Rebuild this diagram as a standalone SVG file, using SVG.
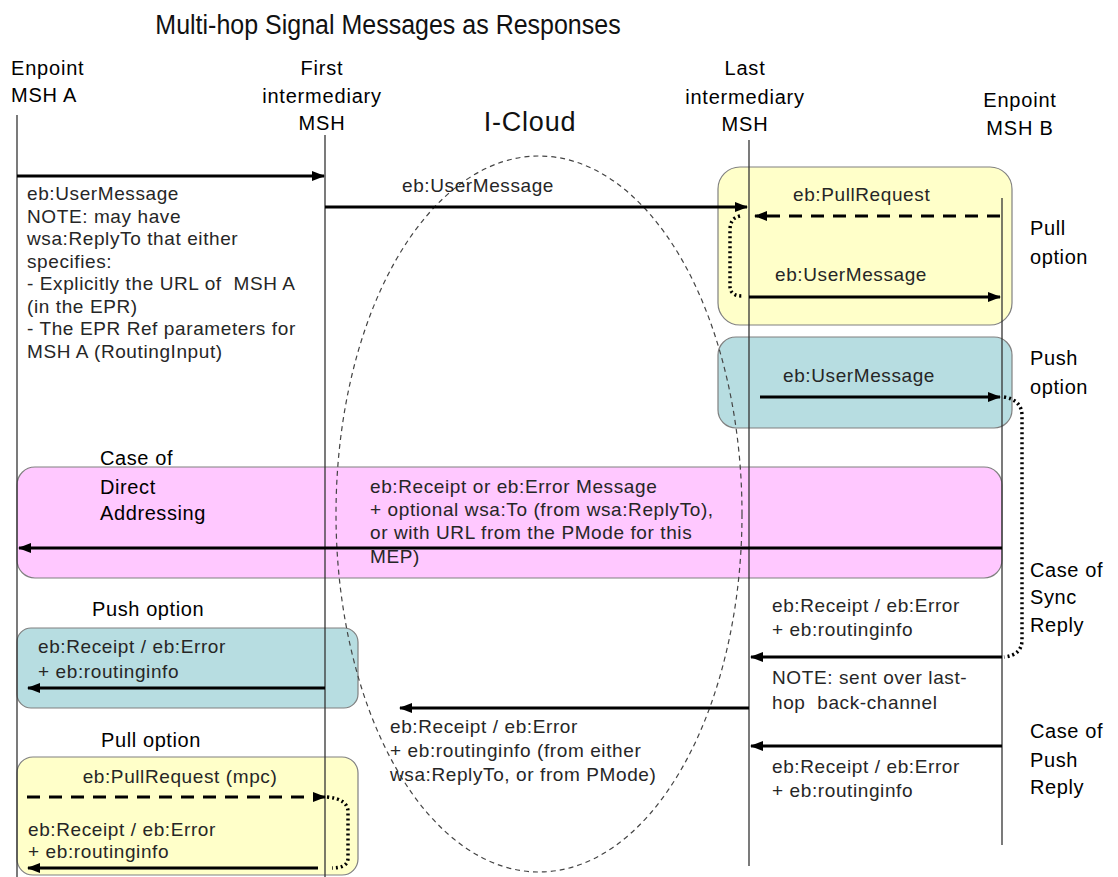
<svg xmlns="http://www.w3.org/2000/svg" width="1118" height="877" viewBox="0 0 1118 877">
<defs>
<marker id="ah" markerUnits="userSpaceOnUse" markerWidth="13" markerHeight="10" refX="12" refY="5" orient="auto">
<path d="M0,0 L13,5 L0,10 z" fill="#000"/>
</marker>
<style>
text{font-family:"Liberation Sans",Arial,sans-serif;}
.title{font-size:25px;fill:#111;}
.hdr{font-size:20px;fill:#000;letter-spacing:0.8px;}
.lbl{font-size:20px;fill:#000;letter-spacing:0.6px;}
.body{font-size:19px;fill:#262626;letter-spacing:0.6px;}
.cloud{font-size:27px;fill:#111;letter-spacing:0.8px;}
.life{stroke:#333;stroke-width:1.3;fill:none;}
.msg{stroke:#000;stroke-width:3;fill:none;marker-end:url(#ah);}
.dash{stroke:#000;stroke-width:3;fill:none;stroke-dasharray:13,9;marker-end:url(#ah);}
.dot{stroke:#000;stroke-width:3.5;fill:none;stroke-dasharray:2,3;}
.box{stroke:#808080;stroke-width:1.2;}
.yel{fill:#FFFFC9;}
.blu{fill:#B7DDE1;}
.pnk{fill:#FFC8FF;}
.cl{fill:none;stroke:#444;stroke-width:1.2;stroke-dasharray:5,4;}
</style>
</defs>
<rect width="1118" height="877" fill="#fff"/>
<text id="title" class="title" transform="translate(388,34) scale(1,1.12)" text-anchor="middle">Multi-hop Signal Messages as Responses</text>

<g id="boxes">
<rect id="box-pull-right" class="box yel" x="718" y="167" width="294" height="158" rx="22"/>
<rect id="box-push-right" class="box blu" x="718" y="337" width="294" height="91" rx="18"/>
<rect id="box-direct" class="box pnk" x="17" y="467" width="985" height="111" rx="18"/>
<rect id="box-push-left" class="box blu" x="17" y="628" width="341" height="80" rx="14"/>
<rect id="box-pull-left" class="box yel" x="17" y="757" width="341" height="118" rx="16"/>
</g>

<g id="icloud">
<ellipse class="cl" cx="539" cy="514" rx="203" ry="358"/>
<text class="cloud" x="530" y="131" text-anchor="middle">I-Cloud</text>
</g>

<g id="msh-a">
<line class="life" x1="17" y1="115" x2="17" y2="877"/>
<text class="hdr" x="11" y="75">Enpoint</text>
<text class="hdr" x="11" y="102">MSH A</text>
</g>
<g id="msh-first">
<line class="life" x1="325" y1="135" x2="325" y2="877"/>
<text class="hdr" x="322" y="75" text-anchor="middle">First</text>
<text class="hdr" x="322" y="103" text-anchor="middle">intermediary</text>
<text class="hdr" x="322" y="130" text-anchor="middle">MSH</text>
</g>
<g id="msh-last">
<line class="life" x1="749" y1="140" x2="749" y2="866"/>
<text class="hdr" x="745" y="75" text-anchor="middle">Last</text>
<text class="hdr" x="745" y="104" text-anchor="middle">intermediary</text>
<text class="hdr" x="745" y="131" text-anchor="middle">MSH</text>
</g>
<g id="msh-b">
<line class="life" x1="1002" y1="198" x2="1002" y2="845"/>
<text class="hdr" x="1020" y="107" text-anchor="middle">Enpoint</text>
<text class="hdr" x="1020" y="135" text-anchor="middle">MSH B</text>
</g>

<g id="labels">
<text class="lbl" x="1030" y="235">Pull</text>
<text class="lbl" x="1030" y="264">option</text>
<text class="lbl" x="1030" y="365">Push</text>
<text class="lbl" x="1030" y="394">option</text>
<text class="lbl" x="1030" y="577">Case of</text>
<text class="lbl" x="1030" y="604">Sync</text>
<text class="lbl" x="1030" y="632">Reply</text>
<text class="lbl" x="1030" y="738">Case of</text>
<text class="lbl" x="1030" y="767">Push</text>
<text class="lbl" x="1030" y="794">Reply</text>
<text class="lbl" x="100" y="465">Case of</text>
<text class="lbl" x="100" y="494">Direct</text>
<text class="lbl" x="100" y="520">Addressing</text>
<text class="lbl" x="92" y="616">Push option</text>
<text class="lbl" x="101" y="747">Pull option</text>
</g>

<g id="texts">
<text class="body" x="27" y="200">eb:UserMessage</text>
<text class="body" x="27" y="222.5">NOTE: may have</text>
<text class="body" x="27" y="245">wsa:ReplyTo that either</text>
<text class="body" x="27" y="267.5">specifies:</text>
<text class="body" x="27" y="290" xml:space="preserve">- Explicitly the URL of  MSH A</text>
<text class="body" x="27" y="312.5">(in the EPR)</text>
<text class="body" x="27" y="335">- The EPR Ref parameters for</text>
<text class="body" x="27" y="357.5">MSH A (RoutingInput)</text>
<text class="body" x="402" y="192">eb:UserMessage</text>
<text class="body" x="793" y="201">eb:PullRequest</text>
<text class="body" x="775" y="281">eb:UserMessage</text>
<text class="body" x="783" y="382">eb:UserMessage</text>
<text class="body" x="370" y="493">eb:Receipt or eb:Error Message</text>
<text class="body" x="370" y="516">+ optional wsa:To (from wsa:ReplyTo),</text>
<text class="body" x="370" y="539">or with URL from the PMode for this</text>
<text class="body" x="370" y="563">MEP)</text>
<text class="body" x="772" y="612">eb:Receipt / eb:Error</text>
<text class="body" x="772" y="636">+ eb:routinginfo</text>
<text class="body" x="772" y="684">NOTE: sent over last-</text>
<text class="body" x="772" y="709" xml:space="preserve">hop  back-channel</text>
<text class="body" x="390" y="733">eb:Receipt / eb:Error</text>
<text class="body" x="390" y="757">+ eb:routinginfo (from either</text>
<text class="body" x="390" y="781">wsa:ReplyTo, or from PMode)</text>
<text class="body" x="772" y="773">eb:Receipt / eb:Error</text>
<text class="body" x="772" y="797">+ eb:routinginfo</text>
<text class="body" x="38" y="653">eb:Receipt / eb:Error</text>
<text class="body" x="38" y="678">+ eb:routinginfo</text>
<text class="body" x="180" y="783" text-anchor="middle">eb:PullRequest (mpc)</text>
<text class="body" x="28" y="836">eb:Receipt / eb:Error</text>
<text class="body" x="28" y="858">+ eb:routinginfo</text>
</g>

<g id="connectors">
<line class="msg" x1="17" y1="176" x2="324" y2="176"/>
<line class="msg" x1="325" y1="207" x2="747" y2="207"/>
<line class="dash" x1="1000" y1="216" x2="755" y2="216"/>
<path class="dot" d="M740,216 Q730,218 730,230 L730,286 Q730,296 742,296"/>
<line class="msg" x1="749" y1="297" x2="1000" y2="297"/>
<line class="msg" x1="760" y1="397" x2="1000" y2="397"/>
<path class="dot" d="M1004,397 Q1022,400 1022,416 L1022,640 Q1022,655 1004,657"/>
<line class="msg" x1="1002" y1="548" x2="19" y2="548"/>
<line class="msg" x1="1002" y1="657" x2="751" y2="657"/>
<line class="msg" x1="749" y1="708" x2="400" y2="708"/>
<line class="msg" x1="1002" y1="746" x2="751" y2="746"/>
<line class="msg" x1="325" y1="688" x2="28" y2="688"/>
<line class="dash" x1="27" y1="797" x2="325" y2="797"/>
<path class="dot" d="M327,797 Q348,799 348,812 L348,858 Q348,868 332,868"/>
<line class="msg" x1="318" y1="868" x2="28" y2="868"/>
</g>
</svg>
